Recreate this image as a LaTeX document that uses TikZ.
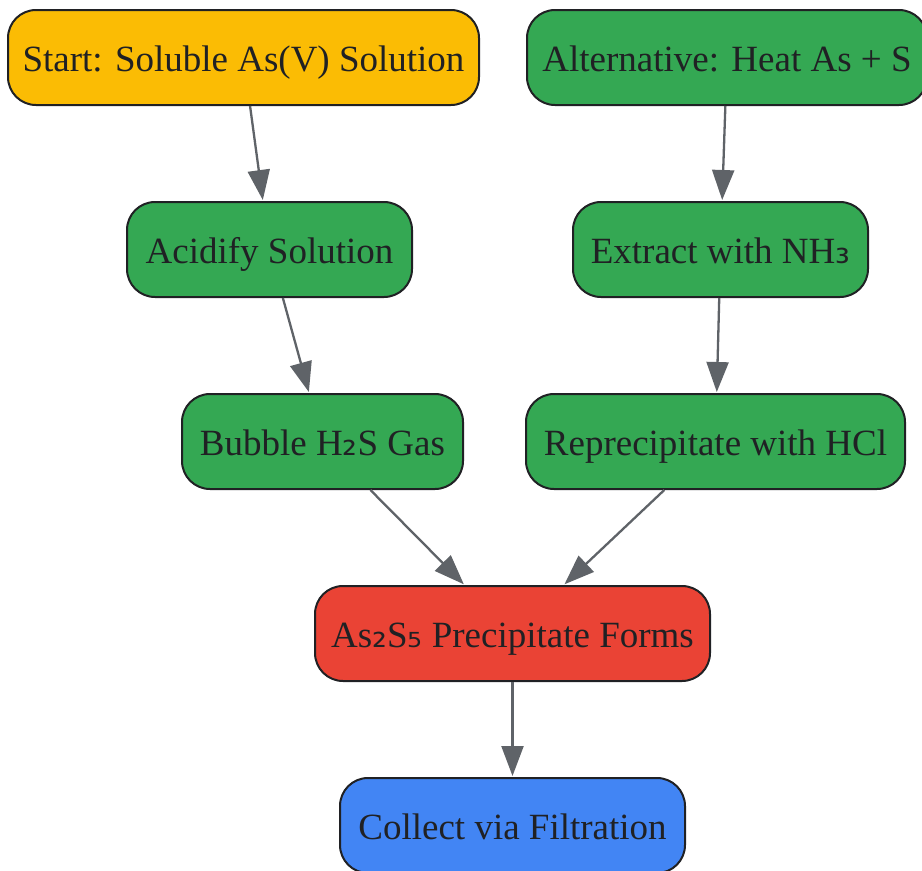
\documentclass[tikz,border=0pt]{standalone}
\usepackage{fontspec}
\setmainfont{Liberation Serif}
\newfontfamily\subfont{DejaVu Sans}
\usetikzlibrary{arrows.meta}
\definecolor{gyellow}{HTML}{FBBC04}
\definecolor{ggreen}{HTML}{34A853}
\definecolor{gred}{HTML}{EA4335}
\definecolor{gblue}{HTML}{4285F4}
\definecolor{gborder}{HTML}{202124}
\definecolor{gedge}{HTML}{5F6368}
\newcommand{\sbs}[1]{{\subfont\fontsize{37}{44}\selectfont #1}}
\tikzset{
  box/.style={draw=gborder, line width=2pt, rounded corners=28pt, minimum height=95pt,
    inner sep=0pt, text=gborder, font=\fontsize{37}{44}\selectfont,
    text height=28pt, text depth=0pt, align=center},
  flow/.style={draw=gedge, line width=2.3pt, -{Triangle[length=30pt,width=22pt]}, shorten >=1pt}
}
\begin{document}
\begin{tikzpicture}[x=1pt,y=-1pt]
\useasboundingbox (0,0) rectangle (922,871);
\node[box, fill=gyellow, minimum width=471pt] (start) at (243.5,57.5) {Start: Soluble As(V) Solution};
\node[box, fill=ggreen, minimum width=400pt] (alt) at (727,57.5) {Alternative: Heat As + S};
\node[box, fill=ggreen, minimum width=285pt] (acid) at (269.5,249.5) {Acidify Solution};
\node[box, fill=ggreen, minimum width=295pt] (extr) at (720.5,249.5) {Extract with NH\sbs{₃}};
\node[box, fill=ggreen, minimum width=281pt] (bubb) at (322.5,441.5) {Bubble H\sbs{₂}S Gas};
\node[box, fill=ggreen, minimum width=379pt] (repr) at (715.5,441.5) {Reprecipitate with HCl};
\node[box, fill=gred, minimum width=395pt] (prec) at (512.5,633.5) {As\sbs{₂}S\sbs{₅} Precipitate Forms};
\node[box, fill=gblue, minimum width=345pt] (coll) at (512.5,825.5) {Collect via Filtration};
\draw[flow] (start) -- (acid);
\draw[flow] (alt) -- (extr);
\draw[flow] (acid) -- (bubb);
\draw[flow] (extr) -- (repr);
\draw[flow] (bubb) -- (prec);
\draw[flow] (repr) -- (prec);
\draw[flow] (prec) -- (coll);
\end{tikzpicture}
\end{document}
